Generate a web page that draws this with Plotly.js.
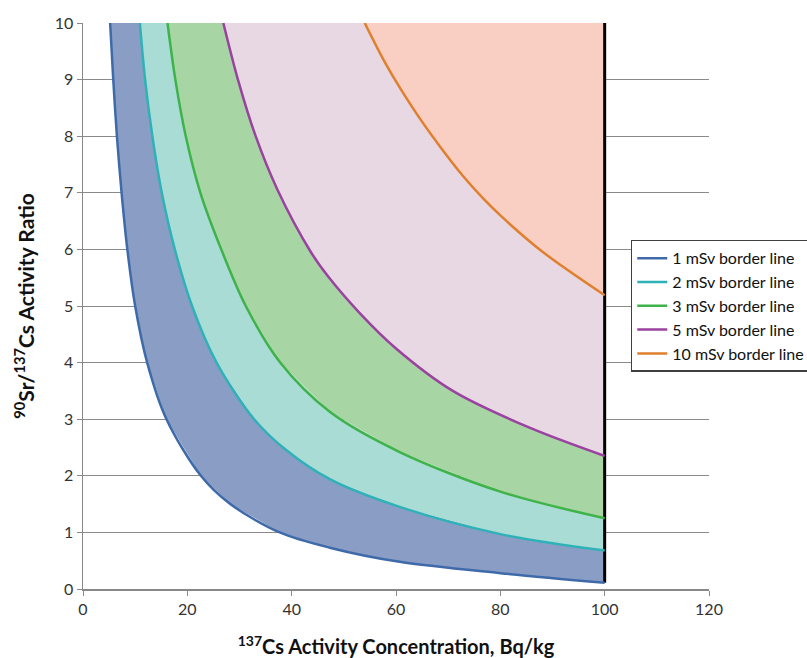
<!DOCTYPE html>
<html>
<head>
<meta charset="utf-8">
<script src="https://cdn.plot.ly/plotly-3.0.1.min.js"></script>
<style>html,body{margin:0;padding:0;background:#fff;}#chart{width:807px;height:658px;}</style>
</head>
<body>
<div id="chart"></div>
<script>
// Data
const seriesNames = ["1 mSv border line", "2 mSv border line", "3 mSv border line", "5 mSv border line", "10 mSv border line"];

const x1mSv = [5.2, 5.8, 6.5, 7.4, 8.5, 10.0, 12.3, 16.0, 22.6, 28.1, 37.7, 47.3, 60.7, 80, 100];
const y1mSv = [10, 9, 8, 7, 6, 5, 4, 3, 2, 1.51, 1.0, 0.73, 0.48, 0.28, 0.11];

const x2mSv = [10.9, 11.9, 13.3, 15.1, 17.6, 20.9, 25.6, 32.8, 39, 47.3, 60.7, 80, 100];
const y2mSv = [10, 9, 8, 7, 6, 5, 4, 3, 2.45, 1.94, 1.45, 0.97, 0.68];

const x3mSv = [16.2, 17.7, 19.7, 22.5, 26.5, 31.2, 37.8, 47.3, 60.7, 80, 100];
const y3mSv = [10, 9, 8, 7, 6, 5, 4, 3.13, 2.42, 1.72, 1.25];

const x5mSv = [26.9, 29.7, 33.1, 37.3, 43.7, 47.0, 53, 60, 70.9, 85.6, 100];
const y5mSv = [10, 9, 8, 7.05, 5.95, 5.52, 4.88, 4.25, 3.5, 2.85, 2.35];

const x10mSv = [54, 58.2, 63.2, 68, 72.8, 76.7, 80, 88.2, 100];
const y10mSv = [10, 9.25, 8.5, 7.87, 7.3, 6.9, 6.6, 5.95, 5.19];

const Y_MAX = 10;

const lineColors = ["#3e6aa9", "#2fb1b8", "#3fb24a", "#9a42a0", "#e07f2e"];
const fillColors = ["#8a9dc5", "#a8dcd5", "#a7d6a4", "#e8d8e4", "#f8cfc2"];

const xs = [x1mSv, x2mSv, x3mSv, x5mSv, x10mSv];
const ys = [y1mSv, y2mSv, y3mSv, y5mSv, y10mSv];

const traces = [];
// Bands between consecutive border lines
for (let i = 0; i < xs.length; i++) {
  let px, py;
  if (i < xs.length - 1) {
    px = xs[i].concat(xs[i + 1].slice().reverse());
    py = ys[i].concat(ys[i + 1].slice().reverse());
  } else {
    const xe = xs[i][xs[i].length - 1];
    px = xs[i].concat([xe]);
    py = ys[i].concat([Y_MAX]);
  }
  traces.push({
    x: px, y: py, type: "scatter", mode: "lines",
    fill: "toself", fillcolor: fillColors[i],
    line: {width: 0, color: fillColors[i]},
    showlegend: false, hoverinfo: "skip"
  });
}
// Right boundary (black vertical line)
const xEnd = x1mSv[x1mSv.length - 1];
traces.push({
  x: [xEnd, xEnd], y: [y1mSv[y1mSv.length - 1], Y_MAX],
  type: "scatter", mode: "lines",
  line: {color: "#000000", width: 3},
  showlegend: false, hoverinfo: "skip"
});
// Border lines
for (let i = 0; i < xs.length; i++) {
  traces.push({
    x: xs[i], y: ys[i], type: "scatter", mode: "lines",
    name: seriesNames[i],
    line: {color: lineColors[i], width: 2.5, shape: "spline", smoothing: 0.9}
  });
}

const tickFont = {family: "Lato, 'Open Sans', sans-serif", size: 16, color: "#333"};
const layout = {
  width: 807, height: 658,
  margin: {l: 83, r: 98, t: 23, b: 69, autoexpand: false},
  paper_bgcolor: "#ffffff", plot_bgcolor: "#ffffff",
  showlegend: true,
  legend: {
    x: 0.875, y: 0.617, xanchor: "left", yanchor: "top",
    bgcolor: "#ffffff", bordercolor: "#404040", borderwidth: 1.5,
    font: {family: "Lato, 'Open Sans', sans-serif", size: 16, color: "#111"},
    tracegroupgap: 0, itemwidth: 30
  },
  xaxis: {
    range: [0, 120], dtick: 20, tick0: 0,
    showgrid: false, zeroline: false,
    showline: true, linecolor: "#888", linewidth: 1.5,
    ticks: "outside", ticklen: 5, tickcolor: "#888",
    tickfont: tickFont,
    title: {text: "<sup>137</sup>Cs Activity Concentration, Bq/kg",
            font: {family: "Lato, 'Open Sans', sans-serif", size: 20, color: "#111", weight: "bold"},
            standoff: 24}
  },
  yaxis: {
    range: [0, 10], dtick: 1, tick0: 0,
    showgrid: true, gridcolor: "#8a8a8a", gridwidth: 1,
    zeroline: false,
    showline: true, linecolor: "#888", linewidth: 1.5,
    ticks: "outside", ticklen: 5, tickcolor: "#888",
    tickfont: tickFont,
    title: {text: "<sup>90</sup>Sr/<sup>137</sup>Cs Activity Ratio",
            font: {family: "Lato, 'Open Sans', sans-serif", size: 21, color: "#111", weight: "bold"},
            standoff: 14}
  }
};

Plotly.newPlot("chart", traces, layout, {displayModeBar: false, staticPlot: true});
</script>
</body>
</html>
